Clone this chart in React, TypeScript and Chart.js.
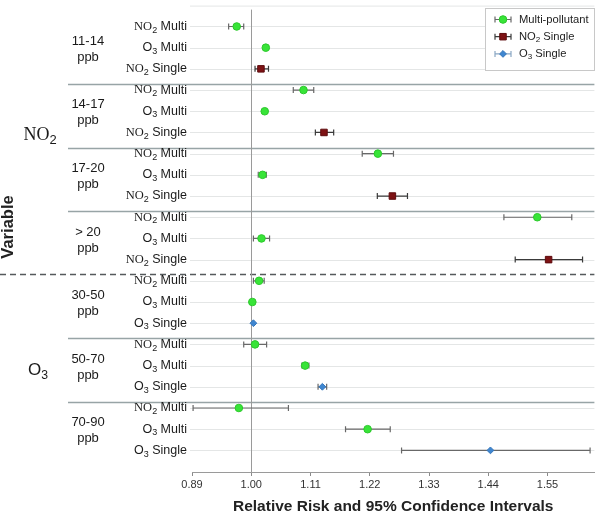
import React, { useEffect, useRef } from 'react';
import { Chart, registerables } from 'chart.js';

Chart.register(...registerables);

// ---------- data ----------
const pollutantLabels = ['NO₂', 'O₃'];
const pollutantRowSpan = [
  [1, 12],
  [13, 21],
];
const groupLabels = ['11-14', '14-17', '17-20', '> 20', '30-50', '50-70', '70-90'];
const groupUnit = 'ppb';

const rowLabels = [
  'NO₂ Multi', 'O₃ Multi', 'NO₂ Single',
  'NO₂ Multi', 'O₃ Multi', 'NO₂ Single',
  'NO₂ Multi', 'O₃ Multi', 'NO₂ Single',
  'NO₂ Multi', 'O₃ Multi', 'NO₂ Single',
  'NO₂ Multi', 'O₃ Multi', 'O₃ Single',
  'NO₂ Multi', 'O₃ Multi', 'O₃ Single',
  'NO₂ Multi', 'O₃ Multi', 'O₃ Single',
];
const rowSeries = [
  'multi', 'multi', 'no2',
  'multi', 'multi', 'no2',
  'multi', 'multi', 'no2',
  'multi', 'multi', 'no2',
  'multi', 'multi', 'o3',
  'multi', 'multi', 'o3',
  'multi', 'multi', 'o3',
];
const estimates = [
  0.973, 1.027, 1.018,
  1.097, 1.025, 1.135,
  1.235, 1.021, 1.262,
  1.531, 1.019, 1.552,
  1.0145, 1.002, 1.004,
  1.007, 1.100, 1.132,
  0.977, 1.216, 1.444,
];
const lowerCI = [
  0.958, 1.025, 1.007,
  1.078, 1.022, 1.119,
  1.206, 1.013, 1.234,
  1.469, 1.004, 1.490,
  1.004, 1.000, 1.002,
  0.986, 1.094, 1.124,
  0.892, 1.175, 1.279,
];
const upperCI = [
  0.986, 1.029, 1.032,
  1.116, 1.028, 1.153,
  1.264, 1.028, 1.290,
  1.595, 1.034, 1.615,
  1.024, 1.004, 1.006,
  1.0285, 1.107, 1.140,
  1.069, 1.258, 1.629,
];
const xTicks = [0.89, 1.0, 1.11, 1.22, 1.33, 1.44, 1.55];
const seriesKeys = ['multi', 'no2', 'o3'];
const seriesNames = ['Multi-pollutant', 'NO₂ Single', 'O₃ Single'];
const separatorRows = [3.72, 6.72, 9.72, 15.72, 18.72];
const dashedRow = 12.7;
const referenceValue = 1.0;

// ---------- styles ----------
const SANS = '"Liberation Sans", Arial, Helvetica, sans-serif';
const SERIF = '"Liberation Serif", "Times New Roman", serif';
const seriesStyle: Record<string, any> = {
  multi: { bg: '#38e438', border: '#2cc82c', style: 'circle', radius: 3.8, bar: '#686868' },
  no2: { bg: '#7d1214', border: '#5e0c0e', style: 'rect', radius: 4.6, bar: '#3a3a3a' },
  o3: { bg: '#3f86d0', border: '#3576bb', style: 'rectRot', radius: 3.4, bar: '#686868' },
};

const SUB: Record<string, string> = { '₂': '2', '₃': '3' };

function drawMarker(ctx: CanvasRenderingContext2D, style: string, r: number, x: number, y: number) {
  ctx.beginPath();
  if (style === 'circle') {
    ctx.arc(x, y, r, 0, Math.PI * 2);
  } else if (style === 'rect') {
    const s = Math.SQRT1_2 * r;
    ctx.rect(x - s, y - s, 2 * s, 2 * s);
  } else {
    ctx.moveTo(x, y - r);
    ctx.lineTo(x + r, y);
    ctx.lineTo(x, y + r);
    ctx.lineTo(x - r, y);
    ctx.closePath();
  }
  ctx.fill();
  ctx.stroke();
}

function drawChem(
  ctx: CanvasRenderingContext2D,
  text: string,
  x: number,
  y: number,
  align: 'left' | 'right' | 'center',
  size: number,
  color: string,
  serifNO = true
) {
  const words = text.split(' ');
  const pieces: any[] = [];
  words.forEach((w, wi) => {
    const fam = serifNO && w.startsWith('NO') ? SERIF : SANS;
    let buf = '';
    for (const ch of w) {
      if (SUB[ch]) {
        if (buf) pieces.push({ t: buf, fam, sub: false });
        buf = '';
        pieces.push({ t: SUB[ch], fam: SANS, sub: true });
      } else buf += ch;
    }
    if (buf) pieces.push({ t: buf, fam, sub: false });
    if (wi < words.length - 1) pieces.push({ t: ' ', fam: SANS, sub: false });
  });
  let total = 0;
  pieces.forEach((p) => {
    ctx.font = `${p.sub ? size * 0.72 : size}px ${p.fam}`;
    p.w = ctx.measureText(p.t).width;
    total += p.w;
  });
  let cx = align === 'right' ? x - total : align === 'center' ? x - total / 2 : x;
  ctx.textBaseline = 'middle';
  ctx.textAlign = 'left';
  ctx.fillStyle = color;
  pieces.forEach((p) => {
    ctx.font = `${p.sub ? size * 0.72 : size}px ${p.fam}`;
    ctx.fillText(p.t, cx, p.sub ? y + size * 0.3 : y);
    cx += p.w;
  });
}

const decorPlugin = {
  id: 'forestDecor',
  beforeDatasetsDraw(chart: any) {
    const { ctx, chartArea } = chart;
    const xs = chart.scales.x;
    const ys = chart.scales.y;
    const right = chartArea.right;
    ctx.save();
    // top light line
    ctx.strokeStyle = '#e4e6e6';
    ctx.lineWidth = 1;
    ctx.beginPath();
    ctx.moveTo(190, chartArea.top + 0.5);
    ctx.lineTo(right, chartArea.top + 0.5);
    ctx.stroke();
    // row grid lines
    rowLabels.forEach((_, i) => {
      const y = Math.round(ys.getPixelForValue(i + 1)) + 0.5;
      ctx.beginPath();
      ctx.moveTo(190, y);
      ctx.lineTo(right, y);
      ctx.stroke();
    });
    // group separators
    ctx.strokeStyle = '#98a4a6';
    ctx.lineWidth = 1.3;
    separatorRows.forEach((r) => {
      const y = Math.round(ys.getPixelForValue(r)) + 0.5;
      ctx.beginPath();
      ctx.moveTo(68, y);
      ctx.lineTo(right, y);
      ctx.stroke();
    });
    // dashed pollutant separator
    ctx.strokeStyle = '#555a5c';
    ctx.lineWidth = 1.4;
    ctx.setLineDash([6, 4]);
    {
      const y = Math.round(ys.getPixelForValue(dashedRow)) + 0.5;
      ctx.beginPath();
      ctx.moveTo(0, y);
      ctx.lineTo(right, y);
      ctx.stroke();
    }
    ctx.setLineDash([]);
    // reference vertical line
    ctx.strokeStyle = '#9a9a9a';
    ctx.lineWidth = 1;
    {
      const x = Math.round(xs.getPixelForValue(referenceValue)) + 0.5;
      ctx.beginPath();
      ctx.moveTo(x, chartArea.top + 4);
      ctx.lineTo(x, chartArea.bottom);
      ctx.stroke();
    }
    // error bars
    rowLabels.forEach((_, i) => {
      const st = seriesStyle[rowSeries[i]];
      const y = ys.getPixelForValue(i + 1);
      const x1 = xs.getPixelForValue(lowerCI[i]);
      const x2 = xs.getPixelForValue(upperCI[i]);
      if (x2 - x1 < 5) return;
      ctx.strokeStyle = st.bar;
      ctx.lineWidth = 1.2;
      ctx.beginPath();
      ctx.moveTo(x1, y);
      ctx.lineTo(x2, y);
      ctx.moveTo(x1, y - 3);
      ctx.lineTo(x1, y + 3);
      ctx.moveTo(x2, y - 3);
      ctx.lineTo(x2, y + 3);
      ctx.stroke();
    });
    ctx.restore();
  },
  afterDatasetsDraw(chart: any) {
    const { ctx } = chart;
    ctx.save();
    // legend
    const lx = 485.5, ly = 8.5, lw = 109, lh = 62;
    ctx.fillStyle = '#ffffff';
    ctx.fillRect(lx, ly, lw, lh);
    ctx.strokeStyle = '#c8c8c8';
    ctx.lineWidth = 1;
    ctx.strokeRect(lx, ly, lw, lh);
    seriesKeys.forEach((k, i) => {
      const st = seriesStyle[k];
      const y = 19.5 + i * 17.2;
      ctx.strokeStyle = k === 'o3' ? '#8aa7c4' : st.bar;
      ctx.lineWidth = 1.2;
      ctx.beginPath();
      ctx.moveTo(495, y);
      ctx.lineTo(511, y);
      ctx.moveTo(495, y - 3);
      ctx.lineTo(495, y + 3);
      ctx.moveTo(511, y - 3);
      ctx.lineTo(511, y + 3);
      ctx.stroke();
      ctx.fillStyle = st.bg;
      ctx.strokeStyle = st.border;
      ctx.lineWidth = 1;
      drawMarker(ctx, st.style, st.radius, 503, y);
      drawChem(ctx, seriesNames[i], 519, y, 'left', 11.2, '#222222', false);
    });
    ctx.restore();
  },
  afterDraw(chart: any) {
    const { ctx } = chart;
    const ys = chart.scales.y;
    ctx.save();
    // row labels
    rowLabels.forEach((lab, i) => {
      drawChem(ctx, lab, 187, ys.getPixelForValue(i + 1), 'right', 12.5, '#1a1a1a');
    });
    // group labels
    groupLabels.forEach((g, gi) => {
      const yc = ys.getPixelForValue(gi * 3 + 2);
      drawChem(ctx, g, 88, yc - 6.5, 'center', 13, '#1a1a1a');
      drawChem(ctx, groupUnit, 88, yc + 9.5, 'center', 13, '#1a1a1a');
    });
    // pollutant labels
    pollutantLabels.forEach((p, pi) => {
      const [a, b] = pollutantRowSpan[pi];
      const yc = ys.getPixelForValue((a + b) / 2) + (pi === 0 ? -8 : 5);
      drawChem(ctx, p, pi === 0 ? 40 : 38, yc, 'center', pi === 0 ? 18 : 17, '#1a1a1a');
    });
    // y-axis title
    ctx.translate(8, 227);
    ctx.rotate(-Math.PI / 2);
    ctx.font = `bold 16.5px ${SANS}`;
    ctx.fillStyle = '#222222';
    ctx.textAlign = 'center';
    ctx.textBaseline = 'middle';
    ctx.fillText('Variable', 0, 0);
    ctx.restore();
  },
};

export default function App() {
  const canvasRef = useRef<HTMLCanvasElement | null>(null);

  useEffect(() => {
    document.body.style.margin = '0';
    const canvas = canvasRef.current;
    if (!canvas) return;
    const datasets = seriesKeys.map((k, si) => {
      const st = seriesStyle[k];
      const data: { x: number; y: number }[] = [];
      rowSeries.forEach((s, i) => {
        if (s === k) data.push({ x: estimates[i], y: i + 1 });
      });
      return {
        label: seriesNames[si],
        data,
        pointStyle: st.style,
        pointRadius: st.radius,
        pointBackgroundColor: st.bg,
        pointBorderColor: st.border,
        pointBorderWidth: 1,
        showLine: false,
      };
    });
    const chart = new Chart(canvas, {
      type: 'scatter',
      data: { datasets },
      options: {
        animation: false,
        responsive: false,
        maintainAspectRatio: false,
        layout: { padding: { left: 192, right: 2, top: 3, bottom: 0 } },
        plugins: { legend: { display: false }, tooltip: { enabled: false } },
        scales: {
          x: {
            type: 'linear',
            min: 0.89,
            max: 1.637,
            afterBuildTicks: (axis: any) => {
              axis.ticks = xTicks.map((v) => ({ value: v }));
            },
            afterFit: (axis: any) => {
              axis.height = 41;
            },
            ticks: {
              callback: (v: any) => Number(v).toFixed(2),
              font: { size: 11, family: SANS, lineHeight: 1 },
              color: '#333333',
              padding: 3,
              autoSkip: false,
              maxRotation: 0,
            },
            grid: { drawOnChartArea: false, drawTicks: true, tickLength: 4, tickColor: '#8a8a8a' },
            border: { display: true, color: '#9a9a9a' },
            title: {
              display: true,
              text: 'Relative Risk and 95% Confidence Intervals',
              font: { size: 15.5, weight: 'bold', family: SANS },
              color: '#222222',
              padding: { top: 0, bottom: -3.5 },
            },
          },
          y: { type: 'linear', reverse: true, min: 0.015, max: 22.02, display: false },
        },
      },
      plugins: [decorPlugin],
    } as any);
    return () => chart.destroy();
  }, []);

  return (
    <div style={{ width: 600, height: 513 }}>
      <canvas ref={canvasRef} width={600} height={513} />
    </div>
  );
}
